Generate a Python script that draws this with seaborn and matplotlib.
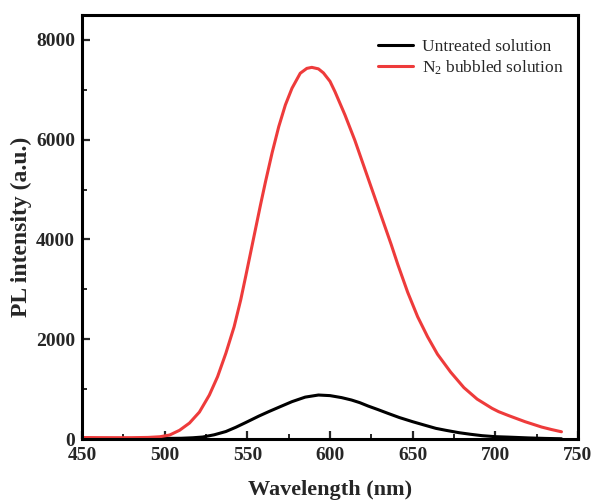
import matplotlib
matplotlib.use("Agg")
import matplotlib.pyplot as plt
import seaborn as sns
import pandas as pd

# Emission spectra (wavelength in nm, PL intensity in a.u.)
wl_n2 = [450, 460, 470, 480, 490, 497, 503, 509, 515, 521, 527, 532, 537, 542,
         546, 549, 552, 555, 558, 561, 565, 569, 573, 577, 582, 586, 589, 593,
         596, 600, 603, 609, 615, 621, 627, 633, 637, 641, 647, 653, 659, 665,
         673, 681, 689, 698, 702, 708, 718, 728, 734, 740]
pl_n2 = [30, 28, 27, 27, 32, 45, 80, 175, 320, 540, 880, 1250, 1718, 2250,
         2790, 3260, 3740, 4220, 4700, 5160, 5740, 6262, 6697, 7031, 7332, 7430,
         7450, 7420, 7340, 7170, 6963, 6500, 5990, 5420, 4850, 4280, 3900, 3500,
         2940, 2452, 2051, 1700, 1340, 1030, 800, 615, 548, 470, 347, 240, 190,
         145]

wl_untreated = [450, 480, 500, 510, 517, 523, 530, 537, 543, 549, 553, 557, 563,
                570, 577, 585, 593, 600, 607, 613, 618, 623, 629, 635, 642, 650,
                657, 664, 670, 678, 685, 692, 700, 708, 720, 730, 740]
pl_untreated = [10, 10, 12, 15, 25, 40, 85, 150, 235, 330, 395, 460, 550, 650,
                749, 840, 882, 870, 830, 782, 729, 662, 590, 515, 430, 347, 280,
                214, 175, 127, 95, 67, 47, 38, 22, 12, 5]

x_ticks = [450, 500, 550, 600, 650, 700, 750]
y_ticks = [0, 2000, 4000, 6000, 8000]

sns.set_style("ticks")
plt.rcParams["font.family"] = ["Liberation Serif", "DejaVu Serif"]
plt.rcParams["mathtext.fontset"] = "custom"
plt.rcParams["mathtext.rm"] = "Liberation Serif"
plt.rcParams["mathtext.it"] = "Liberation Serif:italic"
plt.rcParams["mathtext.bf"] = "Liberation Serif:bold"

df_u = pd.DataFrame({"wl": wl_untreated, "pl": pl_untreated})
df_n = pd.DataFrame({"wl": wl_n2, "pl": pl_n2})

fig = plt.figure(figsize=(5.93, 5.03), dpi=100)
ax = fig.add_axes([0.1383, 0.1272, 0.8364, 0.8430])

sns.lineplot(data=df_u, x="wl", y="pl", ax=ax, color="black", lw=2.2,
             label="Untreated solution")
sns.lineplot(data=df_n, x="wl", y="pl", ax=ax, color="#ee3b3b", lw=2.2,
             label="N$_2$ bubbled solution")

ax.set_xlim(450, 750)
ax.set_ylim(0, 8500)
ax.set_xticks(x_ticks)
ax.set_yticks(y_ticks)
ax.set_xticks([475, 525, 575, 625, 675, 725], minor=True)
ax.set_yticks([1000, 3000, 5000, 7000], minor=True)

ax.tick_params(which="major", direction="in", length=6, width=1.6,
               labelsize=14)
ax.tick_params(axis="x", which="major", pad=6)
ax.tick_params(axis="y", which="major", pad=5)
ax.tick_params(which="minor", direction="in", length=3.5, width=1.4)
for lab in ax.get_xticklabels() + ax.get_yticklabels():
    lab.set_fontweight("bold")

for sp in ax.spines.values():
    sp.set_linewidth(2.2)
    sp.set_color("black")

ax.set_xlabel("Wavelength (nm)", fontsize=16, fontweight="bold", labelpad=11)
ax.set_ylabel("PL intensity (a.u.)", fontsize=17, fontweight="bold", labelpad=3)

ax.legend(loc="upper right", bbox_to_anchor=(0.984, 0.96), frameon=False,
          fontsize=12.5, handlelength=2.0, handletextpad=0.5, labelspacing=0.2,
          borderaxespad=0)

fig.savefig("out.png", dpi=100)
